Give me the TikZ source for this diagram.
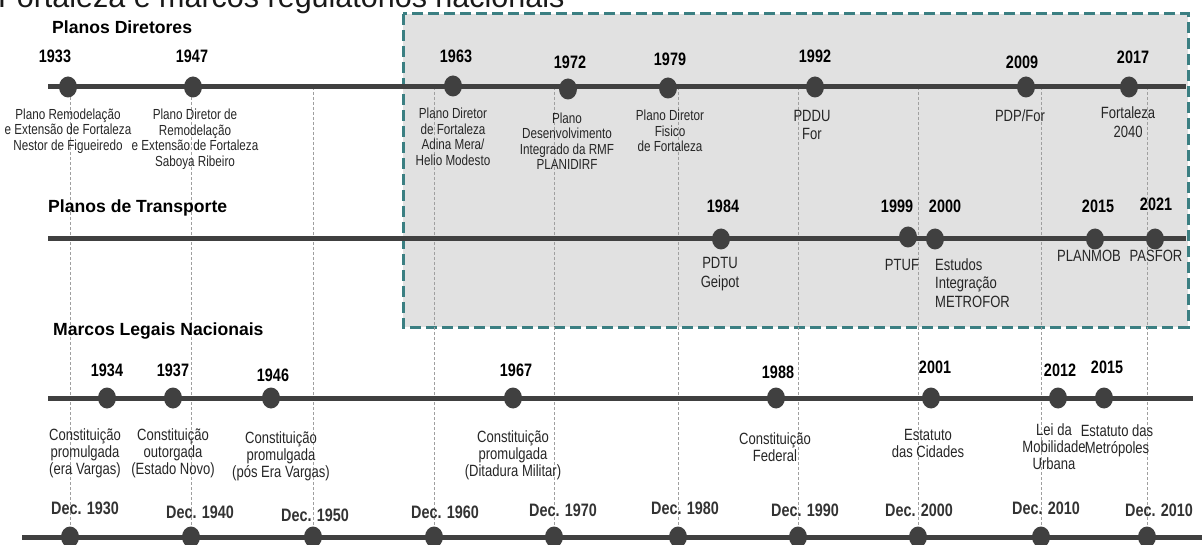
\documentclass[tikz,border=0pt]{standalone}
\usepackage{fontspec}
\setmainfont{Liberation Sans}[FakeStretch=0.8]
\newfontfamily\titlefont{Liberation Sans}
\usepackage{tikz}
\usetikzlibrary{positioning,shapes.geometric,backgrounds}
\usepackage{xcolor}
\definecolor{linegray}{HTML}{404040}
\definecolor{boxfill}{HTML}{E1E1E1}
\definecolor{boxteal}{HTML}{3B7F82}

\begin{document}
\begin{tikzpicture}[x=1pt,y=-1pt,
dot/.style={ellipse,fill=linegray,inner sep=0pt,minimum width=18pt,minimum height=21pt},
yr/.style={font=\fontsize{18}{18}\selectfont\bfseries},
hd/.style={anchor=west,inner sep=0pt,font=\titlefont\fontsize{17.6}{18}\selectfont\bfseries},
dsc/.style={align=center,inner sep=0pt,text=black!85,font=\fontsize{14.6}{15.5}\selectfont},
dscb/.style={align=center,inner sep=0pt,text=black!85,font=\fontsize{16.3}{18.5}\selectfont},
lgl/.style={align=center,inner sep=0pt,text=black!85,font=\fontsize{16.3}{17}\selectfont},
dec/.style={text=black!80,font=\fontsize{18}{18}\selectfont\bfseries},
tl/.style={line width=5pt,draw=linegray},
guide/.style={draw=gray!75,line width=0.7pt,dash pattern=on 3pt off 2pt},
panel/.style={draw=boxteal,fill=boxfill,line width=3pt,dash pattern=on 11pt off 5pt}]
\useasboundingbox (0,0) rectangle (1202,545);
\node[anchor=base west,inner sep=0pt,text=black!90,font=\titlefont\fontsize{30.5}{30.5}\selectfont] (ttl) at (-2,8) {Fortaleza e marcos regulatórios nacionais};
\draw[panel] (403,14) rectangle (1188,327);

% decades
\node[dot] (dc1930) at (70,537) {};
\node[dot] (dc1940) at (191,537) {};
\node[dot] (dc1950) at (313,537) {};
\node[dot] (dc1960) at (434,537) {};
\node[dot] (dc1970) at (554,537) {};
\node[dot] (dc1980) at (678,537) {};
\node[dot] (dc1990) at (798,537) {};
\node[dot] (dc2000) at (918,537) {};
\node[dot] (dc2010) at (1041,537) {};
\node[dot] (dc2010b) at (1147,537) {};
\coordinate (v1930) at (70,87);
\coordinate (v1940) at (191,87);
\coordinate (v1950) at (313,87);
\coordinate (v1960) at (434,87);
\coordinate (v1970) at (554,87);
\coordinate (v1980) at (678,87);
\coordinate (v1990) at (798,87);
\coordinate (v2000) at (918,87);
\coordinate (v2010) at (1041,87);
\coordinate (v2010b) at (1147,87);
\draw[guide] (v1930)--(dc1930);
\draw[guide] (v1940)--(dc1940);
\draw[guide] (v1950)--(dc1950);
\draw[guide] (v1960)--(dc1960);
\draw[guide] (v1970)--(dc1970);
\draw[guide] (v1980)--(dc1980);
\draw[guide] (v1990)--(dc1990);
\draw[guide] (v2000)--(dc2000);
\draw[guide] (v2010)--(dc2010);
\draw[guide] (v2010b)--(dc2010b);

% timelines
\coordinate (pl) at (48,87);
\coordinate (pr) at (1186,87);
\coordinate (tra) at (48,239);
\coordinate (trb) at (1186,239);
\coordinate (ml) at (48,398);
\coordinate (mr) at (1193,398);
\coordinate (dl) at (22,537);
\coordinate (dr) at (1204,537);
\draw[tl] (pl)--(pr);
\draw[tl] (tra)--(trb);
\draw[tl] (ml)--(mr);
\draw[tl] (dl)--(dr);

\node[hd] (hplan) at (52,27) {Planos Diretores};
\node[hd] (htrans) at (48,208) {Planos de Transporte};
\node[hd] (hlegal) at (53,331) {Marcos Legais Nacionais};

% planos diretores
\node[dot] (pd1933) at (68,87) {};
\node[dot] (pd1947) at (193,87) {};
\node[dot] (pd1963) at (453,86) {};
\node[dot] (pd1972) at (568,89) {};
\node[dot] (pd1979) at (668,88) {};
\node[dot] (pd1992) at (815,87) {};
\node[dot] (pd2009) at (1026,87) {};
\node[dot] (pd2017) at (1129,87) {};
\node[yr] (py1933) at (55,56) {1933};
\node[yr] (py1947) at (192,56) {1947};
\node[yr] (py1963) at (456,56) {1963};
\node[yr] (py1972) at (570,62) {1972};
\node[yr] (py1979) at (670,59) {1979};
\node[yr] (py1992) at (815,56) {1992};
\node[yr] (py2009) at (1022,62) {2009};
\node[yr] (py2017) at (1133,57) {2017};
\node[dsc] (pt1933) at (68,131) {Plano Remodelação\\e Extensão de Fortaleza\\Nestor de Figueiredo};
\node[dsc] (pt1947) at (195,139) {Plano Diretor de\\Remodelação\\e Extensão de Fortaleza\\Saboya Ribeiro};
\node[dsc] (pt1963) at (453,137) {Plano Diretor\\de Fortaleza\\Adina Mera/\\Helio Modesto};
\node[dsc] (pt1972) at (567,141) {Plano\\Desenvolvimento\\Integrado da RMF\\PLANIDIRF};
\node[dsc] (pt1979) at (670,131) {Plano Diretor\\Fisico\\de Fortaleza};
\node[dscb] (pt1992) at (812,125) {PDDU\\For};
\node[dscb] (pt2009) at (1020,116) {PDP/For};
\node[dscb] (pt2017) at (1128,122) {Fortaleza\\2040};

% planos de transporte
\node[dot] (td1984) at (721,239) {};
\node[dot] (td1999) at (908,237) {};
\node[dot] (td2000) at (935,239) {};
\node[dot] (td2015) at (1095,239) {};
\node[dot] (td2021) at (1155,239) {};
\node[yr] (ty1984) at (723,206) {1984};
\node[yr] (ty1999) at (897,206) {1999};
\node[yr] (ty2000) at (945,206) {2000};
\node[yr] (ty2015) at (1098,206) {2015};
\node[yr] (ty2021) at (1156,204) {2021};
\node[dscb] (tt1984) at (720,274) {PDTU\\Geipot};
\node[dscb] (tt1999) at (902,265) {PTUF};
\node[dscb,anchor=west,align=left] (tt2000) at (935,283) {Estudos\\Integração\\METROFOR};
\node[dscb] (tt2015) at (1089,256) {PLANMOB};
\node[dscb] (tt2021) at (1156,256) {PASFOR};

% marcos legais
\node[dot] (ld1934) at (107,398) {};
\node[dot] (ld1937) at (173,398) {};
\node[dot] (ld1946) at (271,398) {};
\node[dot] (ld1967) at (513,398) {};
\node[dot] (ld1988) at (776,398) {};
\node[dot] (ld2001) at (931,398) {};
\node[dot] (ld2012) at (1058,398) {};
\node[dot] (ld2015) at (1104,398) {};
\node[yr] (ly1934) at (107,370) {1934};
\node[yr] (ly1937) at (173,370) {1937};
\node[yr] (ly1946) at (273,375) {1946};
\node[yr] (ly1967) at (516,370) {1967};
\node[yr] (ly1988) at (778,372) {1988};
\node[yr] (ly2001) at (935,367) {2001};
\node[yr] (ly2012) at (1060,370) {2012};
\node[yr] (ly2015) at (1107,367) {2015};
\node[lgl] (lt1934) at (85,453) {Constituição\\promulgada\\(era Vargas)};
\node[lgl] (lt1937) at (173,453) {Constituição\\outorgada\\(Estado Novo)};
\node[lgl] (lt1946) at (281,456) {Constituição\\promulgada\\(pós Era Vargas)};
\node[lgl] (lt1967) at (513,455) {Constituição\\promulgada\\(Ditadura Militar)};
\node[lgl] (lt1988) at (775,447) {Constituição\\Federal};
\node[lgl] (lt2001) at (928,443) {Estatuto\\das Cidades};
\node[lgl] (lt2012) at (1054,447) {Lei da\\Mobilidade\\Urbana};
\node[lgl] (lt2015) at (1117,441) {Estatuto das\\Metrópoles};

% decadas
\node[dec] (dt1930) at (85,508) {Dec. 1930};
\node[dec] (dt1940) at (200,512) {Dec. 1940};
\node[dec] (dt1950) at (315,515) {Dec. 1950};
\node[dec] (dt1960) at (445,512) {Dec. 1960};
\node[dec] (dt1970) at (563,510) {Dec. 1970};
\node[dec] (dt1980) at (685,508) {Dec. 1980};
\node[dec] (dt1990) at (805,510) {Dec. 1990};
\node[dec] (dt2000) at (919,510) {Dec. 2000};
\node[dec] (dt2010) at (1046,508) {Dec. 2010};
\node[dec] (dt2010b) at (1159,510) {Dec. 2010};
\end{tikzpicture}
\end{document}
